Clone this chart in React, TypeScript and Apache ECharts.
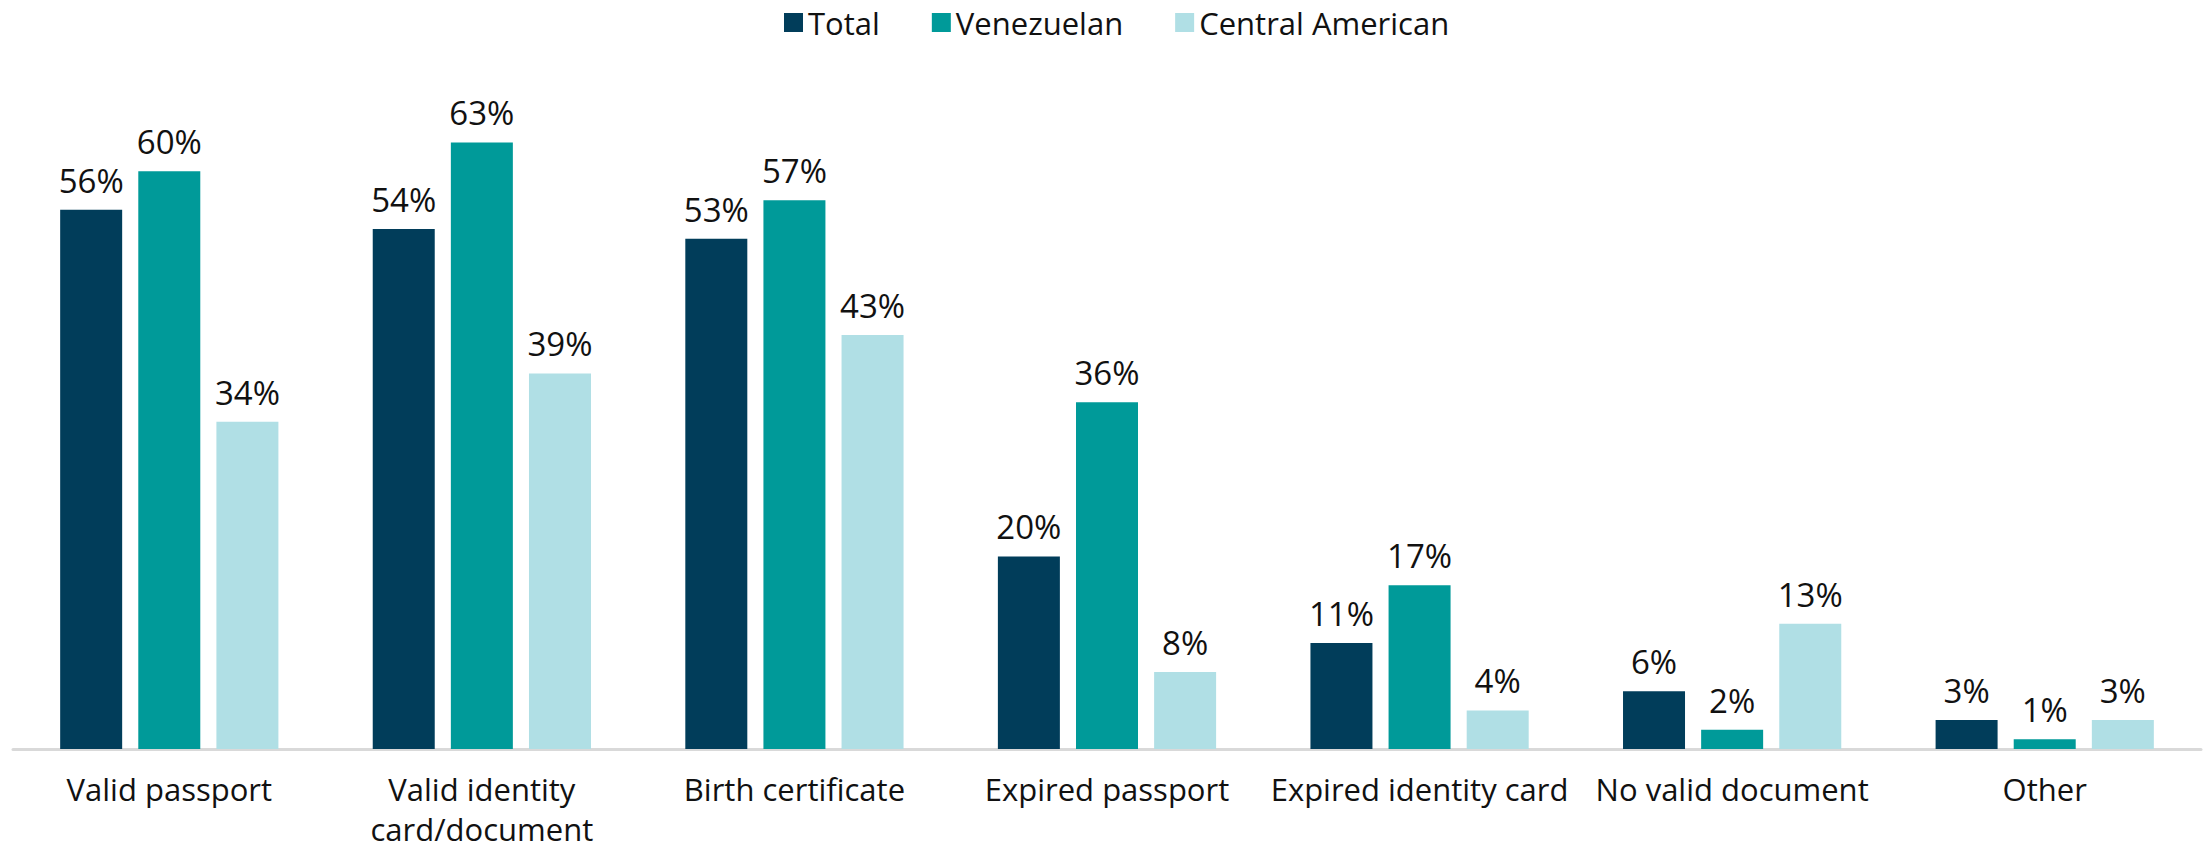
import React, { useEffect, useRef } from "react";
import * as echarts from "echarts";

const categories = [
  "Valid passport",
  "Valid identity\ncard/document",
  "Birth certificate",
  "Expired passport",
  "Expired identity card",
  "No valid document",
  "Other",
];
const totalValues = [56, 54, 53, 20, 11, 6, 3];
const venezuelanValues = [60, 63, 57, 36, 17, 2, 1];
const centralAmericanValues = [34, 39, 43, 8, 4, 13, 3];
const seriesNames = ["Total", "Venezuelan", "Central American"];
const seriesColors = ["#013d5a", "#009a99", "#b0dfe5"];

export default function App() {
  const ref = useRef<HTMLDivElement>(null);
  useEffect(() => {
    if (!ref.current) return;
    const chart = echarts.init(ref.current, undefined, { renderer: "svg" });
    const dataSets = [totalValues, venezuelanValues, centralAmericanValues];
    chart.setOption({
      animation: false,
      backgroundColor: "#ffffff",
      legend: {
        top: 2,
        left: 779,
        itemWidth: 19,
        itemHeight: 19,
        itemGap: 52,
        icon: "rect",
        textStyle: { fontFamily: "Open Sans", fontSize: 31, color: "#111111" },
        data: seriesNames,
      },
      grid: { left: 13, right: 7, top: 75, bottom: 99, containLabel: false },
      xAxis: {
        type: "category",
        data: categories,
        axisLine: { lineStyle: { color: "#d9d9d9", width: 3 } },
        axisTick: { show: false },
        axisLabel: {
          interval: 0,
          margin: 20,
          fontFamily: "Open Sans",
          fontSize: 31,
          lineHeight: 40,
          color: "#111111",
        },
      },
      yAxis: {
        type: "value",
        min: 0,
        max: 70,
        show: false,
        splitLine: { show: false },
      },
      series: seriesNames.map((name, i) => ({
        name,
        type: "bar",
        data: dataSets[i],
        barWidth: 62,
        barGap: "26%",
        itemStyle: { color: seriesColors[i] },
        label: {
          show: true,
          position: "top",
          distance: 13,
          formatter: "{c}%",
          fontFamily: "Open Sans",
          fontSize: 33,
          color: "#111111",
        },
      })),
    });
    return () => chart.dispose();
  }, []);
  return (
    <div
      ref={ref}
      style={{ position: "absolute", left: 0, top: 0, width: 2208, height: 849 }}
    />
  );
}
